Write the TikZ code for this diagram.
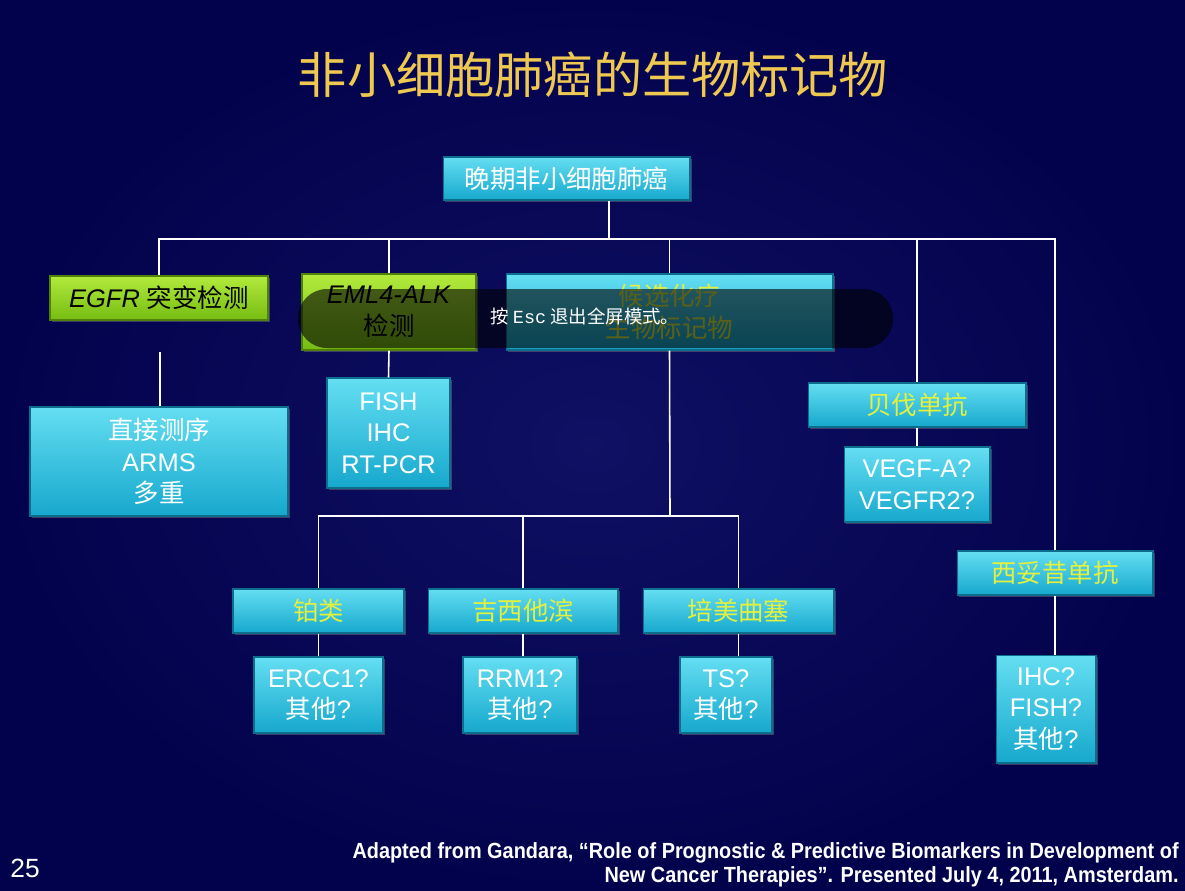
\documentclass[tikz,border=0pt]{standalone}
\usepackage{fontspec}
\setmainfont{Liberation Sans}
\newfontfamily\cjk{Noto Sans CJK SC}
\newfontfamily\escmono{Liberation Mono}
\usetikzlibrary{shadows}
% colours of the slide
\definecolor{slidebg}{RGB}{2,2,76}
\definecolor{slidemid}{RGB}{16,16,100}
\definecolor{titlegold}{RGB}{238,200,80}
\definecolor{drugyellow}{RGB}{228,240,60}
\definecolor{cyantop}{RGB}{100,222,242}
\definecolor{cyanbot}{RGB}{22,168,205}
\definecolor{cyanedge}{RGB}{12,110,140}
\definecolor{greentop}{RGB}{178,234,60}
\definecolor{greenbot}{RGB}{118,188,18}
\definecolor{greenedge}{RGB}{80,130,10}
\newcommand{\zh}[1]{{\cjk #1}}
\begin{document}
\begin{tikzpicture}[x=0.02cm,y=-0.02cm,
  txt/.style={font=\fontsize{14.5}{18}\selectfont,align=center,inner sep=0pt},
  cyanbox/.style={txt,shading=axis,top color=cyantop,bottom color=cyanbot,
    draw=cyanedge,line width=0.6pt,
    drop shadow={opacity=0.45,shadow xshift=1.2pt,shadow yshift=-1.2pt}},
  greenbox/.style={txt,shading=axis,top color=greentop,bottom color=greenbot,
    draw=greenedge,line width=0.6pt,text=black,
    drop shadow={opacity=0.45,shadow xshift=1.2pt,shadow yshift=-1.2pt}},
  wbox/.style={cyanbox,text=white},
  dbox/.style={cyanbox,text=drugyellow},
  link/.style={white,line width=0.9pt}]
% background
\shade[inner color=slidemid,outer color=slidebg] (0,0) rectangle (1185,890);
\useasboundingbox (0,0) rectangle (1185,890);

% title
\node[font=\cjk\fontsize{28}{32}\selectfont,text=titlegold] (title) at (593,75) {非小细胞肺癌的生物标记物};

% first level
\node[wbox,minimum width=4.94cm,minimum height=0.86cm] (root) at (566.5,178.5) {\zh{晚期非小细胞肺癌}};
\coordinate (hub) at (609,239);

\node[greenbox,minimum width=4.36cm,minimum height=0.88cm] (egfr) at (159,298) {\textit{EGFR} \zh{突变检测}};
\node[greenbox,minimum width=3.48cm,minimum height=1.52cm] (eml) at (389,312) {\textit{EML4-ALK}\\\zh{检测}};
\node[dbox,minimum width=6.54cm,minimum height=1.52cm] (chemo) at (669.5,312) {\zh{候选化疗}\\\zh{生物标记物}};
\node[dbox,minimum width=4.36cm,minimum height=0.88cm] (bev) at (917,405) {\zh{贝伐单抗}};
\node[dbox,minimum width=3.92cm,minimum height=0.88cm] (cet) at (1055,573) {\zh{西妥昔单抗}};

% tests under each branch
\node[wbox,minimum width=5.16cm,minimum height=2.18cm] (seq) at (159,461.5) {\zh{直接测序}\\ARMS\\\zh{多重}};
\node[wbox,minimum width=2.46cm,minimum height=2.2cm] (fish) at (388.5,433) {FISH\\IHC\\RT-PCR};
\node[wbox,minimum width=2.92cm,minimum height=1.5cm] (vegf) at (917,484.5) {VEGF-A?\\VEGFR2?};
\node[wbox,minimum width=2.0cm,minimum height=2.16cm] (ihc) at (1046,709) {IHC?\\FISH?\\\zh{其他}?};

% chemotherapy drugs
\coordinate (chemohub) at (670,516);
\node[dbox,minimum width=3.42cm,minimum height=0.88cm] (plat) at (318.5,611) {\zh{铂类}};
\node[dbox,minimum width=3.8cm,minimum height=0.88cm] (gem) at (523,611) {\zh{吉西他滨}};
\node[dbox,minimum width=3.82cm,minimum height=0.88cm] (pem) at (738.5,611) {\zh{培美曲塞}};
\node[wbox,minimum width=2.58cm,minimum height=1.52cm] (ercc) at (318.5,695) {ERCC1?\\\zh{其他}?};
\node[wbox,minimum width=2.28cm,minimum height=1.52cm] (rrm) at (520,695) {RRM1?\\\zh{其他}?};
\node[wbox,minimum width=1.84cm,minimum height=1.52cm] (ts) at (726,695) {TS?\\\zh{其他}?};

% connectors
\draw[link] (root.south -| hub) -- (hub);
\draw[link] (hub) -| (egfr.north);
\draw[link] (hub) -| (eml.north);
\draw[link] (hub) -| (chemo.north);
\draw[link] (hub) -| (bev.north);
\draw[link] (hub) -| (cet.north);
\coordinate (egfrgap) at (160,352);
\draw[link] (egfrgap) -- (seq.north -| egfrgap);
\draw[link] (eml.south) -- (fish.north);
\draw[link] (chemo.south) -- (chemohub);
\draw[link] (chemohub) -| (plat.north);
\draw[link] (chemohub) -| (gem.north);
\draw[link] (chemohub) -| (pem.north);
\draw[link] (plat.south) -- (ercc.north);
\draw[link] (gem.south) -- (gem.south |- rrm.north);
\draw[link] (pem.south) -- (pem.south |- ts.north);
\draw[link] (bev.south) -- (vegf.north);
\draw[link] (cet.south) -- (cet.south |- ihc.north);

% full screen notice
\fill[black,opacity=0.6,rounded corners=0.58cm] (298,289) rectangle (893,348);
\node[anchor=west,text=white,font=\cjk\fontsize{10.5}{12}\selectfont,inner sep=0pt] (esc) at (490,316) {按 {\escmono Esc} 退出全屏模式。};

% footer
\node[anchor=west,text=white,font=\fontsize{15}{17}\selectfont,inner sep=0pt] (page) at (10,868) {25};
\node[anchor=east,text=white,font=\bfseries\fontsize{12.5}{13.8}\selectfont,inner sep=0pt] (src) at (1179,866)
  {\scalebox{0.905}[1]{\begin{tabular}{@{}r@{}}Adapted from Gandara, “Role of Prognostic \& Predictive Biomarkers in Development of\\New Cancer Therapies”. Presented July 4, 2011, Amsterdam.\end{tabular}}};
\end{tikzpicture}
\end{document}
